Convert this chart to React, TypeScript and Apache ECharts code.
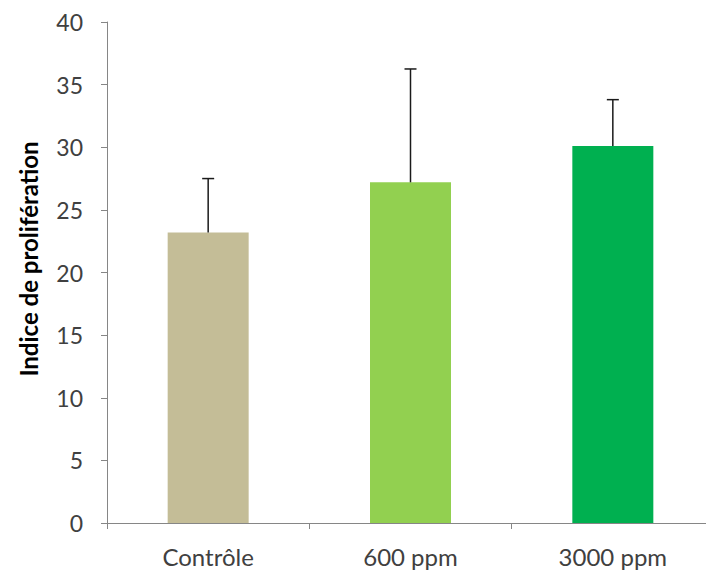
import React, { useEffect, useRef } from "react";
import * as echarts from "echarts";

const categories = ["Contrôle", "600 ppm", "3000 ppm"];
const means = [23.2, 27.2, 30.1];
const errors = [4.3, 9.05, 3.7];
const barColors = ["#C4BD97", "#92D050", "#00B050"];
const yTicks = { min: 0, max: 40, interval: 5 };
const yAxisTitle = "Indice de prolifération";

export default function App() {
  const ref = useRef<HTMLDivElement>(null);
  useEffect(() => {
    document.body.style.margin = "0";
    if (!ref.current) return;
    const chart = echarts.init(ref.current, null, { renderer: "svg" });
    const font = "Lato, 'Open Sans', sans-serif";
    chart.setOption({
      animation: false,
      backgroundColor: "#ffffff",
      grid: { left: 107, width: 607, top: 22, height: 501, outerBoundsMode: "none", containLabel: false },
      graphic: [
        {
          type: "text",
          x: 28,
          y: 259,
          rotation: Math.PI / 2,
          style: {
            text: yAxisTitle,
            fontFamily: font,
            fontSize: 24,
            fontWeight: "bold",
            fill: "#000000",
            align: "center",
            verticalAlign: "middle",
          },
        },
      ],
      xAxis: {
        type: "category",
        data: categories,
        axisLine: { show: true, lineStyle: { color: "#868686", width: 1 } },
        axisTick: { show: true, length: 6, alignWithLabel: false, lineStyle: { color: "#868686" } },
        axisLabel: { color: "#404040", fontFamily: font, fontSize: 24, margin: 21 },
        splitLine: { show: false },
      },
      yAxis: {
        type: "value",
        min: yTicks.min,
        max: yTicks.max,
        interval: yTicks.interval,
        axisLine: { show: true, lineStyle: { color: "#868686", width: 1 } },
        axisTick: { show: true, length: 6, lineStyle: { color: "#868686" } },
        axisLabel: { color: "#404040", fontFamily: font, fontSize: 23, margin: 24 },
        splitLine: { show: false },
      },
      series: [
        {
          type: "bar",
          barWidth: 81,
          data: means.map((v, i) => ({ value: v, itemStyle: { color: barColors[i] } })),
        },
        {
          type: "custom",
          z: 5,
          data: means.map((v, i) => [i, v, v + errors[i]]),
          renderItem: (params: any, api: any) => {
            const x = api.value(0);
            const base = api.coord([x, api.value(1)]);
            const top = api.coord([x, api.value(2)]);
            const half = 6;
            const style = { stroke: "#1a1a1a", lineWidth: 1.5 };
            return {
              type: "group",
              children: [
                { type: "line", shape: { x1: base[0], y1: base[1], x2: top[0], y2: top[1] }, style },
                { type: "line", shape: { x1: top[0] - half, y1: top[1], x2: top[0] + half, y2: top[1] }, style },
              ],
            };
          },
        },
      ],
    });
    return () => chart.dispose();
  }, []);
  return <div ref={ref} style={{ width: 706, height: 573 }} />;
}
